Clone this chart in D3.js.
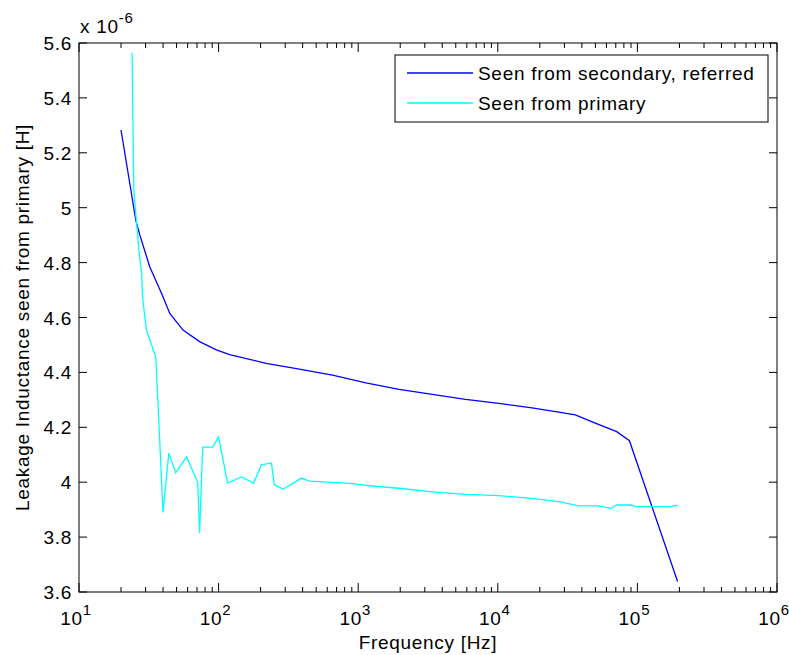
<!DOCTYPE html>
<html>
<head>
<meta charset="utf-8">
<script src="https://cdn.jsdelivr.net/npm/d3@7"></script>
<style>
  body { margin: 0; background: #fff; }
  text { font-family: "Liberation Sans", Arial, sans-serif; fill: #000; }
</style>
</head>
<body>
<div id="chart"></div>
<script>
// values, inductance in units of 1e-6 H
const secFreq = [20, 23.1, 25.5, 27.3, 32.1, 39, 44.7, 55.6, 73.1, 96.4, 120, 219, 379, 655, 1135, 1963, 3397, 5875, 10160, 17580, 27300, 35900, 49900, 71100, 87700, 194000];
const secL = [5.283, 5.089, 4.955, 4.9, 4.785, 4.688, 4.615, 4.554, 4.512, 4.482, 4.465, 4.433, 4.412, 4.39, 4.362, 4.338, 4.32, 4.302, 4.287, 4.271, 4.255, 4.245, 4.215, 4.184, 4.151, 3.638];

const priFreq = [24, 24.7, 25.4, 27, 28.1, 28.5, 29.6, 30.4, 35.5, 40, 44, 49.3, 59, 70.8, 73.1, 76.9, 90.6, 100, 116, 146, 178, 203, 239, 251, 291, 392, 447, 863, 1200, 1963, 3397, 5875, 10160, 17580, 27300, 37900, 52600, 65100, 70800, 90600, 96800, 175000, 194000];
const priL = [5.564, 5.064, 4.99, 4.834, 4.761, 4.676, 4.603, 4.555, 4.455, 3.89, 4.106, 4.034, 4.092, 4.0, 3.815, 4.128, 4.128, 4.165, 3.997, 4.019, 3.997, 4.063, 4.07, 3.99, 3.975, 4.015, 4.004, 3.996, 3.987, 3.978, 3.965, 3.956, 3.951, 3.941, 3.929, 3.914, 3.914, 3.905, 3.917, 3.917, 3.911, 3.911, 3.917];

const yTicks = [3.6, 3.8, 4, 4.2, 4.4, 4.6, 4.8, 5, 5.2, 5.4, 5.6];
const xDecades = [1, 2, 3, 4, 5, 6];
const seriesNames = ["Seen from secondary, referred", "Seen from primary"];
const seriesColors = ["#0000ff", "#00ffff"];

const W = 789, H = 655;
const margin = {top: 43, right: 12, bottom: 63, left: 79};
const width = W - margin.left - margin.right,
  height = H - margin.top - margin.bottom;

const svg = d3.select("#chart").append("svg")
  .attr("width", W).attr("height", H);
const g = svg.append("g")
  .attr("transform", `translate(${margin.left},${margin.top})`);

const x = d3.scaleLog().domain([10, 1e6]).range([0, width]);
const y = d3.scaleLinear().domain([3.6, 5.6]).range([height, 0]);

// minor ticks 2..9 per decade
const minor = [];
for (let d = 1; d < 6; d++) for (let m = 2; m <= 9; m++) minor.push(m * Math.pow(10, d));
const major = xDecades.map(e => Math.pow(10, e));

const fontSize = "19px", spacing = "0.7px";

// x ticks, bottom and top, pointing inward
function xTickLines(vals, len) {
  g.selectAll(null).data(vals).join("line")
    .attr("x1", d => x(d)).attr("x2", d => x(d))
    .attr("y1", height).attr("y2", height - len)
    .attr("stroke", "#000");
  g.selectAll(null).data(vals).join("line")
    .attr("x1", d => x(d)).attr("x2", d => x(d))
    .attr("y1", 0).attr("y2", len)
    .attr("stroke", "#000");
}
xTickLines(minor, 5);
xTickLines(major, 9);

// y ticks left and right
g.selectAll(null).data(yTicks).join("line")
  .attr("x1", 0).attr("x2", 8)
  .attr("y1", d => y(d)).attr("y2", d => y(d))
  .attr("stroke", "#000");
g.selectAll(null).data(yTicks).join("line")
  .attr("x1", width).attr("x2", width - 8)
  .attr("y1", d => y(d)).attr("y2", d => y(d))
  .attr("stroke", "#000");

// frame
g.append("rect")
  .attr("width", width).attr("height", height)
  .attr("fill", "none").attr("stroke", "#000").attr("stroke-width", 1);

// y tick labels
g.selectAll(null).data(yTicks).join("text")
  .attr("x", -7).attr("y", d => y(d) + 7)
  .attr("text-anchor", "end")
  .style("font-size", fontSize).style("letter-spacing", spacing)
  .text(d => d3.format("~g")(d));

// x tick labels 10^n
const xl = g.selectAll(null).data(xDecades).join("text")
  .attr("x", d => x(Math.pow(10, d)) - 3).attr("y", height + 33)
  .attr("text-anchor", "middle")
  .style("font-size", fontSize).style("letter-spacing", spacing);
xl.append("tspan").text("10");
xl.append("tspan").attr("dy", -10).style("font-size", "15px").text(d => d);

// exponent label
const ex = svg.append("text").attr("x", 80).attr("y", 33)
  .style("font-size", fontSize).style("letter-spacing", spacing);
ex.append("tspan").text("x 10");
ex.append("tspan").attr("dy", -10).style("font-size", "15px").text("-6");

// axis titles
svg.append("text")
  .attr("x", margin.left + width / 2).attr("y", 649)
  .attr("text-anchor", "middle")
  .style("font-size", fontSize).style("letter-spacing", spacing)
  .text("Frequency [Hz]");
svg.append("text")
  .attr("transform", `translate(29,${margin.top + height / 2}) rotate(-90)`)
  .attr("text-anchor", "middle")
  .style("font-size", fontSize).style("letter-spacing", spacing)
  .text("Leakage Inductance seen from primary [H]");

// lines
const line = d3.line().x(d => x(d[0])).y(d => y(d[1]));
const series = [d3.zip(secFreq, secL), d3.zip(priFreq, priL)];
g.selectAll(null).data(series).join("path")
  .attr("d", line)
  .attr("fill", "none")
  .attr("stroke", (d, i) => seriesColors[i])
  .attr("stroke-width", 1.3);

// legend
const lg = svg.append("g").attr("transform", "translate(395,55)");
lg.append("rect").attr("width", 373).attr("height", 67)
  .attr("fill", "#fff").attr("stroke", "#000");
seriesNames.forEach((name, i) => {
  const ly = 18 + i * 30;
  lg.append("line").attr("x1", 12).attr("x2", 78)
    .attr("y1", ly).attr("y2", ly)
    .attr("stroke", seriesColors[i]).attr("stroke-width", 1.3);
  lg.append("text").attr("x", 83).attr("y", ly + 7)
    .style("font-size", fontSize).style("letter-spacing", spacing)
    .text(name);
});
</script>
</body>
</html>
